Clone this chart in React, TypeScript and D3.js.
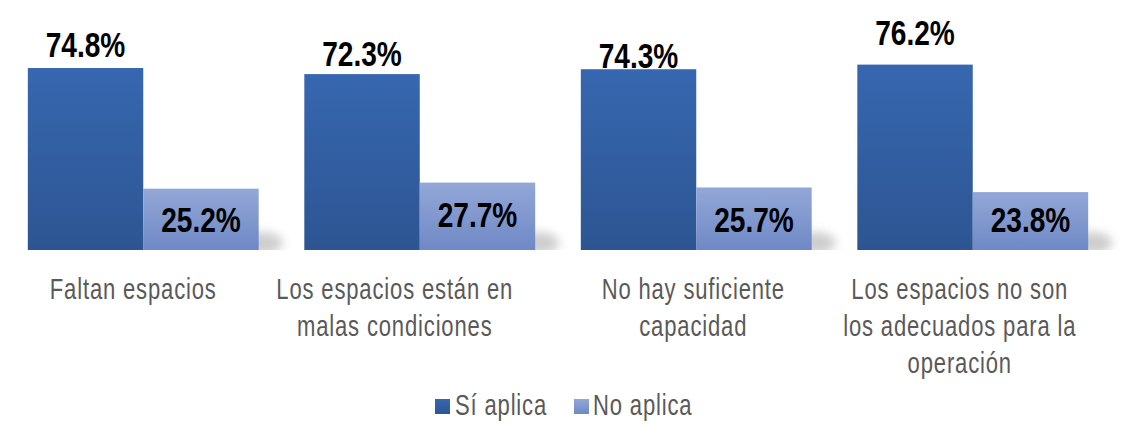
import React from "react";
import * as d3 from "d3";

// Survey categories (each label is split into its display lines)
const categories = [
  "Faltan espacios",
  "Los espacios están en malas condiciones",
  "No hay suficiente capacidad",
  "Los espacios no son los adecuados para la operación",
];
const categoryLines = [
  ["Faltan espacios"],
  ["Los espacios están en", "malas condiciones"],
  ["No hay suficiente", "capacidad"],
  ["Los espacios no son", "los adecuados para la", "operación"],
];

const seriesNames = ["Sí aplica", "No aplica"];
const siAplica = [74.8, 72.3, 74.3, 76.2];
const noAplica = [25.2, 27.7, 25.7, 23.8];

// Small hand nudges for the labels (px)
const siLabelLift = [11, 8, 1, 20];
const noLabelRise = [18, 23, 18, 18];
const catLabelShift = [-10, -25, -3, -13];

const W = 1127;
const H = 426;
const baseY = 250;

const sans = "'Liberation Sans', Arial, sans-serif";
const textGray = "#595959";

type CondensedProps = {
  x: number;
  yy: number;
  sx: number;
  children: React.ReactNode;
  [k: string]: any;
};

// Text drawn horizontally condensed around its anchor point
const Condensed = ({ x, yy, sx, children, ...rest }: CondensedProps) => (
  <g transform={`translate(${x},${yy}) scale(${sx},1)`}>
    <text x={0} y={0} {...rest}>
      {children}
    </text>
  </g>
);

export default function App() {
  const x0 = d3
    .scaleBand<string>()
    .domain(categories)
    .range([5, 1111])
    .paddingInner(0.165)
    .paddingOuter(0.0825);
  const x1 = d3
    .scaleBand<string>()
    .domain(seriesNames)
    .range([0, x0.bandwidth()]);
  const y = d3.scaleLinear().domain([0, 100]).range([baseY, 6.7]);

  const values = [siAplica, noAplica];
  const fills = ["url(#gradSi)", "url(#gradNo)"];

  const valueText = {
    fontFamily: sans,
    fontWeight: "bold",
    fontSize: 36,
    fill: "#000",
    textAnchor: "middle",
    sx: 0.78,
  };
  const plainText = {
    fontFamily: sans,
    fontSize: 29,
    letterSpacing: 1.1,
    fill: textGray,
    sx: 0.76,
  };

  return (
    <svg
      width={W}
      height={H}
      style={{ position: "absolute", left: 0, top: 0, background: "#fff" }}
    >
      <defs>
        <linearGradient id="gradSi" x1="0" y1="0" x2="0" y2="1">
          <stop offset="0" stopColor="#3767b0" />
          <stop offset="1" stopColor="#2d5592" />
        </linearGradient>
        <linearGradient id="gradNo" x1="0" y1="0" x2="0" y2="1">
          <stop offset="0" stopColor="#93a7d7" />
          <stop offset="1" stopColor="#6f89c6" />
        </linearGradient>
        <filter id="soft" x="-100%" y="-100%" width="300%" height="300%">
          <feGaussianBlur stdDeviation="5" />
        </filter>
        <clipPath id="aboveBase">
          <rect x={0} y={0} width={W} height={baseY} />
        </clipPath>
      </defs>

      {/* soft floor shadows to the right of each bar */}
      <g clipPath="url(#aboveBase)">
        {categories.map((c, i) =>
          seriesNames.map((s, j) => {
            const bx = (x0(c) ?? 0) + (x1(s) ?? 0);
            const bw = x1.bandwidth();
            return (
              <ellipse
                key={`sh-${i}-${j}`}
                cx={bx + bw + 4}
                cy={baseY - 7}
                rx={20}
                ry={11}
                fill="#8a8a8a"
                opacity={0.42}
                filter="url(#soft)"
              />
            );
          })
        )}
      </g>

      {/* bars */}
      {categories.map((c, i) =>
        seriesNames.map((s, j) => {
          const v = values[j][i];
          const bx = (x0(c) ?? 0) + (x1(s) ?? 0);
          return (
            <rect
              key={`bar-${i}-${j}`}
              x={bx}
              y={y(v)}
              width={x1.bandwidth()}
              height={baseY - y(v)}
              fill={fills[j]}
            />
          );
        })
      )}

      {/* value labels */}
      {categories.map((c, i) => {
        const cx0 = (x0(c) ?? 0) + (x1(seriesNames[0]) ?? 0) + x1.bandwidth() / 2;
        const cx1 = (x0(c) ?? 0) + (x1(seriesNames[1]) ?? 0) + x1.bandwidth() / 2;
        return (
          <g key={`lab-${i}`}>
            <Condensed x={cx0} yy={y(siAplica[i]) - siLabelLift[i]} {...valueText}>
              {siAplica[i].toFixed(1)}%
            </Condensed>
            <Condensed x={cx1} yy={baseY - noLabelRise[i]} {...valueText}>
              {noAplica[i].toFixed(1)}%
            </Condensed>
          </g>
        );
      })}

      {/* category labels */}
      {categories.map((c, i) => {
        const cx = (x0(c) ?? 0) + x0.bandwidth() / 2 + catLabelShift[i];
        return (
          <g key={`cat-${i}`}>
            {categoryLines[i].map((line, k) => (
              <Condensed key={k} x={cx} yy={299 + k * 37} textAnchor="middle" {...plainText}>
                {line}
              </Condensed>
            ))}
          </g>
        );
      })}

      {/* legend */}
      <rect x={435} y={399} width={15} height={15} fill="url(#gradSi)" />
      <Condensed x={455} yy={415} {...plainText}>
        {seriesNames[0]}
      </Condensed>
      <rect x={574} y={399} width={15} height={15} fill="url(#gradNo)" />
      <Condensed x={593} yy={415} {...plainText}>
        {seriesNames[1]}
      </Condensed>
    </svg>
  );
}
